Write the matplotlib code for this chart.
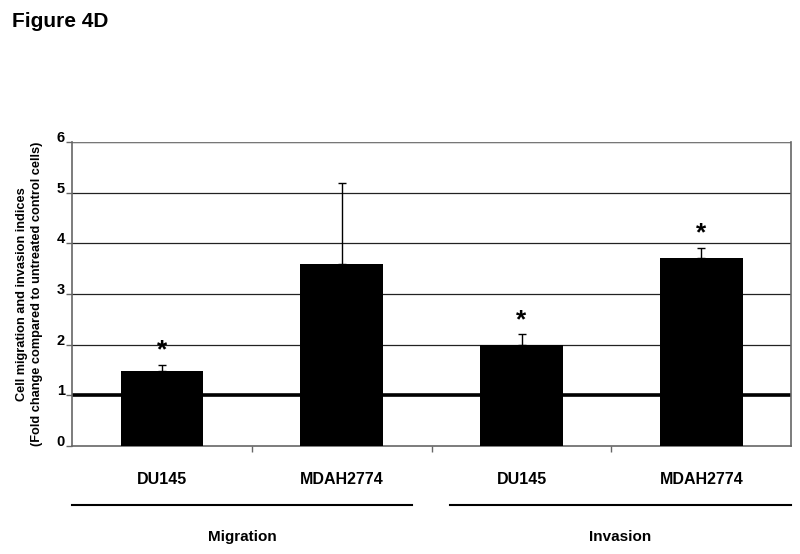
import matplotlib
matplotlib.use("Agg")
import matplotlib.pyplot as plt
import matplotlib.transforms as mtransforms

plt.rcParams['font.family'] = ['Liberation Sans', 'DejaVu Sans']
plt.rcParams['font.weight'] = 'bold'

# data
cells = ["DU145", "MDAH2774", "DU145", "MDAH2774"]
groups = ["Migration", "Invasion"]
values = [1.48, 3.58, 2.0, 3.71]
errors = [0.12, 1.61, 0.2, 0.19]
significant = [True, False, True, True]
yticks = [0, 1, 2, 3, 4, 5, 6]

fig = plt.figure(figsize=(8, 5.54), dpi=100)
ax = fig.add_axes([0.09, 0.195, 0.899, 0.549])

x = list(range(len(values)))
ax.set_xlim(-0.5, len(values) - 0.5)
ax.set_ylim(0, 6)

# grid lines
for t in yticks[1:]:
    ax.axhline(t, color='#222222', linewidth=0.9, zorder=1)
ax.axhline(6, color='#777777', linewidth=1.6, zorder=1)
# control reference line
ax.axhline(1, color='black', linewidth=2.6, zorder=1)

ax.bar(x, values, width=0.46, color='black', zorder=3)
ax.errorbar(x, values, yerr=[[0] * len(errors), errors], fmt='none',
            ecolor='black', elinewidth=1, capsize=3, capthick=1, zorder=4)

for xi, v, e, s in zip(x, values, errors, significant):
    if s:
        ax.text(xi, v + e + 0.05, "*", ha='center', va='bottom',
                fontsize=19, fontweight='bold')

for side in ['left', 'right', 'bottom', 'top']:
    ax.spines[side].set_color('#666666')
    ax.spines[side].set_linewidth(1.2)
ax.spines['top'].set_visible(False)

ax.set_yticks(yticks)
ax.set_yticklabels([str(t) for t in yticks], fontsize=10.5, fontweight='bold')
for lbl in ax.get_yticklabels():
    lbl.set_va('baseline')
ax.tick_params(axis='y', direction='out', length=4, width=1, color='#666666', pad=1)

# category boundary ticks on x axis
ax.set_xticks([0.5, 1.5, 2.5], minor=True)
ax.set_xticks([])
ax.tick_params(axis='x', which='minor', direction='out', length=4, width=1,
               color='#666666', labelbottom=False)

trans = mtransforms.blended_transform_factory(ax.transData, ax.transAxes)
for xi, name in zip(x, cells):
    ax.text(xi, -0.11, name, transform=trans, ha='center', va='center',
            fontsize=11.5, fontweight='bold')

group_spans = [(-0.5, 1.39), (1.6, 3.5)]
for (x0, x1), g in zip(group_spans, groups):
    ax.plot([x0, x1], [-0.195, -0.195], transform=trans, color='black',
            linewidth=1.5, clip_on=False)
    ax.text((x0 + x1) / 2, -0.3, g, transform=trans, ha='center', va='center',
            fontsize=11, fontweight='bold')

ax.set_ylabel("Cell migration and invasion indices\n(Fold change compared to untreated control cells)",
              fontsize=9.2, fontweight='bold', labelpad=10, linespacing=1.3)

fig.text(0.015, 0.962, "Figure 4D", fontsize=15, fontweight='bold', va='center')

fig.savefig("out.png", dpi=100, facecolor='white')
